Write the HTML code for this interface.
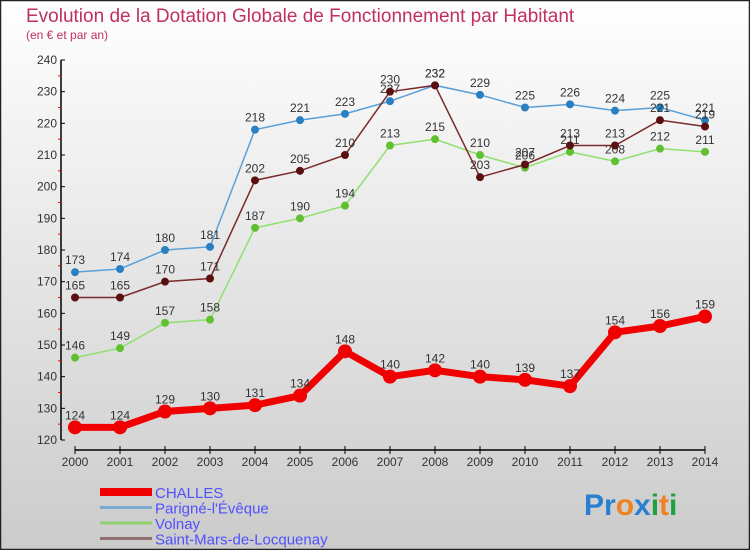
<!DOCTYPE html>
<html><head><meta charset="utf-8"><style>
body{margin:0;width:750px;height:550px;overflow:hidden;font-family:"Liberation Sans",sans-serif}
svg text{font-family:"Liberation Sans",sans-serif}
</style></head><body>
<svg id="c" width="750" height="550" xmlns="http://www.w3.org/2000/svg">
<defs><linearGradient id="bg" x1="0" y1="0" x2="0" y2="1"><stop offset="0" stop-color="#ffffff"/><stop offset="1" stop-color="#cbcbcb"/></linearGradient></defs>
<rect x="0.5" y="0.5" width="749" height="549" fill="url(#bg)" stroke="#222" stroke-width="1.5"/>
<text x="26" y="22" font-size="19" fill="#c03060">Evolution de la Dotation Globale de Fonctionnement par Habitant</text>
<text x="26" y="39" font-size="12" fill="#c03060">(en € et par an)</text>
<g id="axes"></g><g id="series"></g><g id="legend"></g>
<text x="584" y="515" font-size="30" font-weight="bold"><tspan fill="#2a7fd0">Pr</tspan><tspan fill="#f08020">o</tspan><tspan fill="#2a7fd0">x</tspan><tspan fill="#20a040">i</tspan><tspan fill="#f08020">t</tspan><tspan fill="#20a040">i</tspan></text>
</svg>
<script>
const years=[2000,2001,2002,2003,2004,2005,2006,2007,2008,2009,2010,2011,2012,2013,2014];
const yTicks=[120,130,140,150,160,170,180,190,200,210,220,230,240];
const challes=[124,124,129,130,131,134,148,140,142,140,139,137,154,156,159];
const parigne=[173,174,180,181,218,221,223,227,232,229,225,226,224,225,221];
const volnay=[146,149,157,158,187,190,194,213,215,210,206,211,208,212,211];
const stmars=[165,165,170,171,202,205,210,230,232,203,207,213,213,221,219];
const names=["CHALLES","Parigné-l'Évêque","Volnay","Saint-Mars-de-Locquenay"];
const NS="http://www.w3.org/2000/svg";
const xs=i=>75+i*45, ys=v=>440-(v-120)*380/120;
function mk(t,a,p){const e=document.createElementNS(NS,t);for(const k in a)e.setAttribute(k,a[k]);p.appendChild(e);return e;}
const ax=document.getElementById('axes');
let l=mk('line',{x1:61,y1:60,x2:61,y2:440,stroke:'#000','stroke-width':1.5},ax);


l=mk('line',{x1:75,y1:450,x2:705,y2:450,stroke:'#000','stroke-width':1.5},ax);


yTicks.forEach(v=>{mk('line',{x1:61,y1:ys(v),x2:65,y2:ys(v),stroke:'#000'},ax);
 if(v<240)mk('line',{x1:58,y1:ys(v+5),x2:61,y2:ys(v+5),stroke:'#f00'},ax);
 const t=mk('text',{x:57,y:ys(v)+4,'font-size':12,'text-anchor':'end',fill:'#333'},ax);t.textContent=v;
 
 });
years.forEach((y,i)=>{mk('line',{x1:xs(i),y1:446,x2:xs(i),y2:454,stroke:'#000'},ax);
 const t=mk('text',{x:xs(i),y:466,'font-size':12,'text-anchor':'middle',fill:'#333'},ax);t.textContent=y;
 
 });
const sg=document.getElementById('series');
const defs=[[parigne,'#5aa0d8','#2a7fc0',1.5,4,'parigne'],[volnay,'#90e070','#60c030',1.5,4,'volnay'],[stmars,'#7a2a2a','#5a1010',1.5,4,'saint-mars'],[challes,'#f00000','#f00000',7,7,'challes']];
defs.forEach(([d,lc,pc,w,r,n])=>{
 const p=mk('polyline',{points:d.map((v,i)=>xs(i)+','+ys(v)).join(' '),fill:'none',stroke:lc,'stroke-width':w},sg);
 
 
 d.forEach((v,i)=>{const c=mk('circle',{cx:xs(i),cy:ys(v),r:r,fill:pc},sg);
  
  
  const t=mk('text',{x:xs(i),y:ys(v)-8,'font-size':12,'text-anchor':'middle',fill:'#333'},sg);t.textContent=v;
  
  });
});
const lg=document.getElementById('legend');
const lcs=['#f00000','#7aaad0','#90d070','#907070'],lw=[8,3,3,3];
names.forEach((n,i)=>{const y=492+i*15.5;
 mk('line',{x1:100,y1:y,x2:152,y2:y,stroke:lcs[i],'stroke-width':lw[i]},lg);
 const t=mk('text',{x:155,y:y+6,'font-size':15,fill:'#5050ff'},lg);t.textContent=n;
 
 });
</script>
</body></html>
